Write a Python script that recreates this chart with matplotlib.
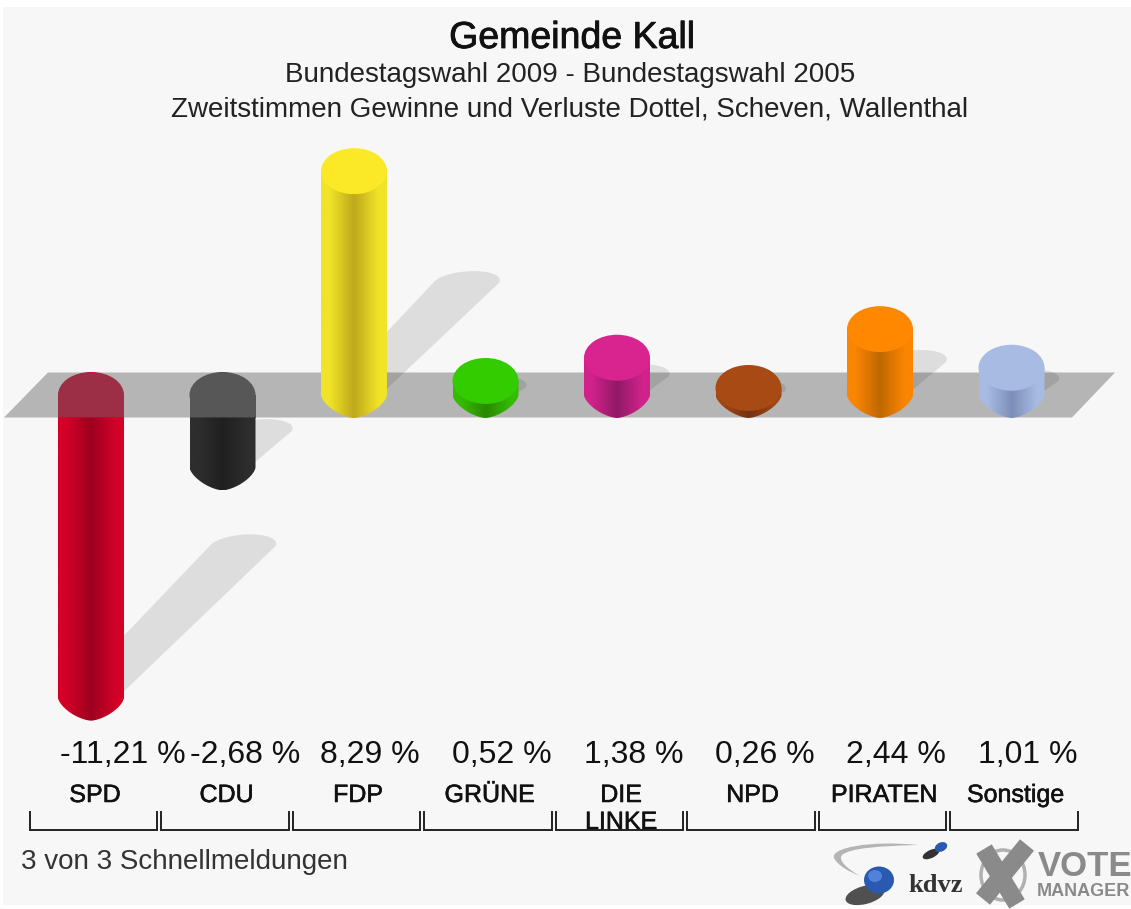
import numpy as np
import matplotlib
matplotlib.use('Agg')
import matplotlib.pyplot as plt
import matplotlib.patheffects as pe
from matplotlib.colors import LinearSegmentedColormap
from matplotlib.patches import Ellipse, Polygon, Rectangle, PathPatch
from matplotlib.path import Path
from matplotlib.transforms import blended_transform_factory

plt.rcParams['font.family'] = ['Liberation Sans', 'DejaVu Sans']

parties = ['SPD', 'CDU', 'FDP', 'GRÜNE', 'DIE\nLINKE', 'NPD', 'PIRATEN', 'Sonstige']
changes = [-11.21, -2.68, 8.29, 0.52, 1.38, 0.26, 2.44, 1.01]
top_colors = ['#c8002a', '#4a4a4a', '#fbe928', '#33cc00', '#d9248f', '#a84a14', '#ff8800', '#a8bbe3']
edge_colors = ['#d40028', '#2e2e2e', '#f0e428', '#35bb00', '#d0228a', '#a04612', '#fa8500', '#a8bbe3']
dark_colors = ['#9c0020', '#202020', '#bfa91c', '#2a8a00', '#8f1a66', '#743210', '#c06800', '#7d8fb8']

title = 'Gemeinde Kall'
subtitle1 = 'Bundestagswahl 2009 - Bundestagswahl 2005'
subtitle2 = 'Zweitstimmen Gewinne und Verluste Dottel, Scheven, Wallenthal'
footer = '3 von 3 Schnellmeldungen'

W, H = 1131, 909
X0, X_STEP = 91, 131.5     # pixel of first bar, pixels per category
Y0, Y_STEP = 395, 27.0     # pixel of zero line, pixels per percent
HALF_W = 33 / X_STEP
CAP_H = 23 / Y_STEP
SHADOW_H = 12 / Y_STEP
SHADOW_SKEW = 8 / X_STEP
PLANE_H = 22.5 / Y_STEP
VALUE_RIGHT = [186, 300, 420, 552, 683, 815, 946, 1078]


def py(y):
    return 1 - y / H


fig = plt.figure(figsize=(W / 100, H / 100), dpi=100, facecolor='white')

# page background and logos live in pixel coordinates
bg = fig.add_axes([0, 0, 1, 1], zorder=0)
bg.set_xlim(0, W)
bg.set_ylim(H, 0)
bg.axis('off')
bg.add_patch(Rectangle((3, 7), W - 3, H - 11, fc='#f7f7f7', ec='none'))

ax = fig.add_axes([0, 0, 1, 1], zorder=1)
ax.patch.set_alpha(0)
ax.axis('off')
xlim = (-X0 / X_STEP, (W - X0) / X_STEP)
ylim = ((Y0 - H) / Y_STEP, Y0 / Y_STEP)
tx = blended_transform_factory(ax.transData, ax.transAxes)


def ellipse_pts(cx, cy, hw, hh, start, stop, skew=0):
    t = np.radians(np.linspace(start, stop, 40))
    return np.column_stack([cx + hw * np.cos(t) + skew * np.sin(t), cy + hh * np.sin(t)])


def tapered_cap(cx, cy):
    # lower end of a cylinder, more pointed than a true ellipse
    t = np.radians(np.linspace(0, -180, 60))
    c, s = np.cos(t), np.sin(t)
    n = 1.55
    return np.column_stack([cx + HALF_W * np.sign(c) * np.abs(c) ** (2 / n),
                            cy + CAP_H * np.sign(s) * np.abs(s) ** (2 / n)])


def gradient_fill(pts, i, zorder):
    cmap = LinearSegmentedColormap.from_list('c', [
        (0, edge_colors[i]), (0.12, edge_colors[i]), (0.5, dark_colors[i]),
        (0.88, edge_colors[i]), (1, edge_colors[i])])
    ymin, ymax = pts[:, 1].min(), pts[:, 1].max()
    im = ax.imshow(np.linspace(0, 1, 200)[None, :], cmap=cmap, aspect='auto',
                   extent=(i - HALF_W, i + HALF_W, ymin, ymax), zorder=zorder,
                   interpolation='bilinear')
    patch = Polygon(pts, closed=True, fc='none', ec='none', transform=ax.transData)
    ax.add_patch(patch)
    im.set_clip_path(patch)


def shadow_pts(i, v):
    # sheared copy of the cylinder lying behind it, up and to the right
    start = min(v, 0)
    dy = abs(v) / 2
    dx = dy * Y_STEP / X_STEP
    low = ellipse_pts(i, start, 0.8 * HALF_W, 0.5 * SHADOW_H, -180, 0)
    high = ellipse_pts(i + dx, start + dy, HALF_W, SHADOW_H, 0, 180, SHADOW_SKEW)
    return np.vstack([low, high])


# the zero plane
plane = [((4 - X0) / X_STEP, -PLANE_H), ((1072 - X0) / X_STEP, -PLANE_H),
         ((1115 - X0) / X_STEP, PLANE_H), ((48 - X0) / X_STEP, PLANE_H)]
ax.add_patch(Polygon(plane, closed=True, fc='#686868', ec='none', alpha=0.46, zorder=3))

for i, v in enumerate(changes):
    ax.add_patch(Polygon(shadow_pts(i, v), closed=True, fc='black', ec='none', alpha=0.1, zorder=2 if v < 0 else 4))
    if v < 0:
        # hanging bar: upper part is seen through the plane
        ax.add_patch(Ellipse((i, 0), 2 * HALF_W, 2 * CAP_H, fc=top_colors[i], ec='none', zorder=2.5))
        ax.add_patch(Rectangle((i - HALF_W, -PLANE_H), 2 * HALF_W, PLANE_H, fc=top_colors[i], ec='none', zorder=2.5))
        body = np.vstack([[(i - HALF_W, -PLANE_H), (i + HALF_W, -PLANE_H)], tapered_cap(i, v)])
        gradient_fill(body, i, 5)
    else:
        body = np.vstack([[(i - HALF_W, v), (i + HALF_W, v)], tapered_cap(i, 0)])
        gradient_fill(body, i, 5)
        ax.add_patch(Ellipse((i, v), 2 * HALF_W, 2 * CAP_H, fc=top_colors[i], ec='none', zorder=6))

    # value, name and bracket under each bar
    label = f'{v:.2f}'.replace('.', ',') + ' %'
    bg.text(VALUE_RIGHT[i], 755, label, ha='right', va='center', fontsize=23, color='#111111')
    lines = parties[i].split('\n')
    for k, line in enumerate(lines):
        ax.text(i + 4 / X_STEP, py(795 + 27 * k), line, transform=tx, ha='center', va='center',
                fontsize=18, color='#111111', zorder=8,
                path_effects=[pe.withStroke(linewidth=0.4, foreground='#111111')])
    left, right = i - 61.5 / X_STEP, i + 66 / X_STEP
    ax.plot([left, left, right, right], [py(812), py(830), py(830), py(812)], transform=tx,
            color='#222222', lw=1.4, solid_joinstyle='miter', zorder=7)

ax.set_xlim(*xlim)
ax.set_ylim(*ylim)

# headings
top = fig.add_axes([0, 0, 1, 1], zorder=2)
top.set_xlim(0, W)
top.set_ylim(H, 0)
top.axis('off')
top.text(572, 38, title, ha='center', va='center', fontsize=27, color='#111111',
         path_effects=[pe.withStroke(linewidth=0.6, foreground='#111111')])
top.text(570, 75, subtitle1, ha='center', va='center', fontsize=20, color='#222222')
top.text(570, 110, subtitle2, ha='center', va='center', fontsize=20, color='#222222')
top.text(21, 862, footer, ha='left', va='center', fontsize=20, color='#333333')

# kdvz logo
arc = Path([(918, 845), (870, 840), (830, 848), (834, 858), (838, 866), (850, 872), (860, 876),
            (846, 868), (838, 860), (842, 855), (850, 848), (880, 846), (918, 845)],
           [Path.MOVETO] + [Path.CURVE4] * 12)
top.add_patch(PathPatch(arc, fc='#b4b4b4', ec='none'))
top.add_patch(Ellipse((865, 895), 40, 18, angle=-15, fc='#333333', ec='none', alpha=0.85))
top.add_patch(Ellipse((879, 880), 30, 27, fc='#2a5ab0', ec='none'))
top.add_patch(Ellipse((875, 876), 14, 12, fc='#4f82d8', ec='none'))
top.add_patch(Ellipse((931, 854), 18, 8, angle=-25, fc='#333333', ec='none'))
top.add_patch(Ellipse((941, 847), 13, 9, angle=-25, fc='#2a5ab0', ec='none'))
top.text(936, 885, 'kdvz', ha='center', va='center', fontsize=19, family='Liberation Serif',
         weight='bold', color='#333333')

# vote manager logo
top.add_patch(Ellipse((1003, 875), 44, 50, fc='none', ec='#b0b0b0', lw=2.5))
top.plot([984, 1017], [849, 904], color='#8a8a8a', lw=13, solid_capstyle='butt')
top.plot([1027, 983], [845, 899], color='#8a8a8a', lw=13, solid_capstyle='butt')
top.text(1038, 867, 'VOTE', ha='left', va='center', fontsize=25, weight='bold', color='#8a8a8a')
top.text(1037, 892, 'MANAGER', ha='left', va='center', fontsize=13, weight='bold', color='#8a8a8a')

fig.savefig('out.png', dpi=100, facecolor='white')
